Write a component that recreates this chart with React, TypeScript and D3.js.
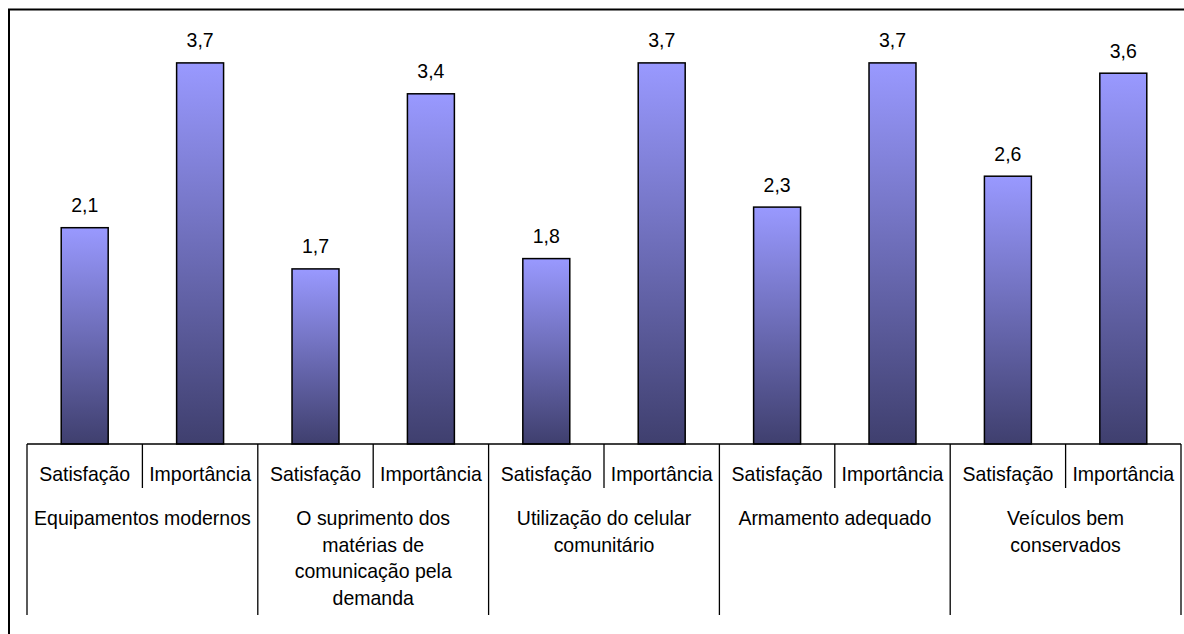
import React from "react";
import * as d3 from "d3";

// Groups (line breaks mark where each label wraps) and the two measures
const groups = [
  "Equipamentos modernos",
  "O suprimento dos\nmatérias de\ncomunicação pela\ndemanda",
  "Utilização do celular\ncomunitário",
  "Armamento adequado",
  "Veículos bem\nconservados",
];
const measures = ["Satisfação", "Importância"];
const satisfacao = [2.1, 1.7, 1.8, 2.3, 2.6];
const importancia = [3.7, 3.4, 3.7, 3.7, 3.6];

const W = 1184;
const H = 634;
const plotLeft = 27;
const plotRight = 1181;
const baseY = 444;
const topY = 32;
const FONT = "'Liberation Sans', Arial, sans-serif";
const FS = 19.5;
const STRETCH = 1.08;

const fmt = (v: number) => v.toFixed(1).replace(".", ",");

// Text drawn at (x, y) baseline with a slight vertical stretch
function Label({ x, y, children }: { x: number; y: number; children: React.ReactNode }) {
  return (
    <text
      transform={`translate(${x},${y}) scale(1,${STRETCH})`}
      textAnchor="middle"
      fontSize={FS}
      fill="#000"
    >
      {children}
    </text>
  );
}

export default function App() {
  const x0 = d3.scaleBand<string>().domain(groups).range([plotLeft, plotRight]).padding(0);
  const x1 = d3
    .scaleBand<string>()
    .domain(measures)
    .range([0, x0.bandwidth()])
    .paddingInner(0.593)
    .paddingOuter(0.2965);
  const y = d3.scaleLinear().domain([0, 4]).range([baseY, topY]);

  const series = [satisfacao, importancia];
  const sepBottom = 615;
  const innerSepBottom = 488;

  return (
    <svg
      width={W}
      height={H}
      style={{ position: "absolute", left: 0, top: 0, background: "#fff" }}
      fontFamily={FONT}
    >
      <defs>
        <linearGradient id="barFill" x1="0" y1="0" x2="0" y2="1">
          <stop offset="0%" stopColor="#9999ff" />
          <stop offset="100%" stopColor="#3f3f6e" />
        </linearGradient>
      </defs>

      {/* chart frame, open past the right and bottom edges */}
      <rect x={9} y={9.5} width={W + 20} height={H + 20} fill="#fff" stroke="#000" strokeWidth={2} />

      {/* bars and value labels */}
      {groups.map((g, gi) =>
        measures.map((m, mi) => {
          const v = series[mi][gi];
          const bx = (x0(g) ?? 0) + (x1(m) ?? 0);
          const bw = x1.bandwidth();
          return (
            <g key={g + m}>
              <rect
                x={bx}
                y={y(v)}
                width={bw}
                height={baseY - y(v)}
                fill="url(#barFill)"
                stroke="#000"
                strokeWidth={1.5}
              />
              <Label x={bx + bw / 2} y={y(v) - 15.5}>
                {fmt(v)}
              </Label>
            </g>
          );
        })
      )}

      {/* category axis */}
      <line x1={plotLeft} x2={plotRight} y1={baseY} y2={baseY} stroke="#000" strokeWidth={1.5} />
      {[...groups.map((g) => x0(g) ?? 0), plotRight].map((gx, i) => (
        <line key={"sep" + i} x1={gx} x2={gx} y1={baseY} y2={sepBottom} stroke="#000" strokeWidth={1.3} />
      ))}
      {groups.map((g) => {
        const gx = (x0(g) ?? 0) + x0.bandwidth() / 2;
        return (
          <line key={"in" + g} x1={gx} x2={gx} y1={baseY} y2={innerSepBottom} stroke="#000" strokeWidth={1.3} />
        );
      })}

      {/* measure labels */}
      {groups.map((g) =>
        measures.map((m) => (
          <Label key={"ml" + g + m} x={(x0(g) ?? 0) + (x1(m) ?? 0) + x1.bandwidth() / 2} y={481}>
            {m}
          </Label>
        ))
      )}

      {/* group labels */}
      {groups.map((g) =>
        g.split("\n").map((line, li) => (
          <Label key={"gl" + g + li} x={(x0(g) ?? 0) + x0.bandwidth() / 2} y={525 + li * 26.5}>
            {line}
          </Label>
        ))
      )}
    </svg>
  );
}
